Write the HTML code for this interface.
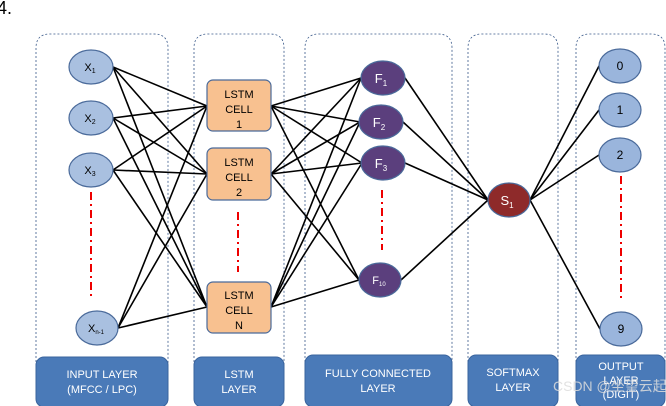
<!DOCTYPE html>
<html><head><style>body{margin:0;background:#fff}svg{display:block}text{font-family:"Liberation Sans",sans-serif}</style></head>
<body>
<svg width="666" height="406" viewBox="0 0 666 406" xmlns="http://www.w3.org/2000/svg">
<text x="-3" y="14" font-size="18" fill="#000">4.</text>
<g fill="none" stroke="#3a5a8a" stroke-width="0.8" stroke-dasharray="2,2">
<path d="M36,390 V48 Q36,34 50,34 H154 Q168,34 168,48 V390"/>
<path d="M194,390 V48 Q194,34 208,34 H270 Q284,34 284,48 V390"/>
<path d="M305,390 V48 Q305,34 319,34 H438 Q452,34 452,48 V390"/>
<path d="M468,390 V48 Q468,34 482,34 H544 Q558,34 558,48 V390"/>
<path d="M576,390 V48 Q576,34 590,34 H651 Q665,34 665,48 V390"/>
</g>
<g stroke="#000" stroke-width="1.6">
<line x1="113" y1="67" x2="207" y2="106"/><line x1="113" y1="67" x2="207" y2="174"/><line x1="113" y1="67" x2="207" y2="307"/>
<line x1="113" y1="118" x2="207" y2="106"/><line x1="113" y1="118" x2="207" y2="174"/><line x1="113" y1="118" x2="207" y2="307"/>
<line x1="113" y1="170" x2="207" y2="106"/><line x1="113" y1="170" x2="207" y2="174"/><line x1="113" y1="170" x2="207" y2="307"/>
<line x1="118" y1="328" x2="207" y2="106"/><line x1="118" y1="328" x2="207" y2="174"/><line x1="118" y1="328" x2="207" y2="307"/>
<line x1="271" y1="106" x2="361" y2="78"/><line x1="271" y1="106" x2="360" y2="122"/><line x1="271" y1="106" x2="362" y2="163"/><line x1="271" y1="106" x2="359" y2="280"/>
<line x1="271" y1="174" x2="361" y2="78"/><line x1="271" y1="174" x2="360" y2="122"/><line x1="271" y1="174" x2="362" y2="163"/><line x1="271" y1="174" x2="359" y2="280"/>
<line x1="271" y1="307" x2="361" y2="78"/><line x1="271" y1="307" x2="360" y2="122"/><line x1="271" y1="307" x2="362" y2="163"/><line x1="271" y1="307" x2="359" y2="280"/>
<line x1="405" y1="78" x2="488" y2="200"/><line x1="403" y1="122" x2="488" y2="200"/><line x1="405" y1="163" x2="488" y2="200"/><line x1="401" y1="280" x2="488" y2="200"/>
<line x1="530" y1="200" x2="599" y2="66"/><line x1="530" y1="200" x2="599" y2="110"/><line x1="530" y1="200" x2="599" y2="155"/><line x1="530" y1="200" x2="600" y2="329"/>
</g>
<g stroke="#e00" stroke-width="2" stroke-dasharray="8,4,2,4">
<line x1="91" y1="192" x2="91" y2="297"/><line x1="238" y1="212" x2="238" y2="272"/><line x1="382" y1="190" x2="382" y2="250"/><line x1="621" y1="176" x2="621" y2="300"/>
</g>
<g fill="#a9c0e0" stroke="#4a6a9a" stroke-width="1.2">
<ellipse cx="91" cy="67" rx="22" ry="17"/><ellipse cx="91" cy="118" rx="22" ry="17"/><ellipse cx="91" cy="170" rx="22" ry="17"/><ellipse cx="97" cy="328" rx="21" ry="17"/>
<ellipse cx="620" cy="66" rx="21" ry="17" fill="#9ab5dc"/><ellipse cx="620" cy="110" rx="21" ry="17" fill="#9ab5dc"/><ellipse cx="620" cy="155" rx="21" ry="17" fill="#9ab5dc"/><ellipse cx="621" cy="329" rx="21" ry="17" fill="#9ab5dc"/>
</g>
<g fill="#f8c190" stroke="#4a6a9a" stroke-width="1.2">
<rect x="207" y="80" width="64" height="51" rx="6"/><rect x="207" y="148" width="64" height="52" rx="6"/><rect x="207" y="282" width="64" height="51" rx="6"/>
</g>
<g fill="#5b3f7d" stroke="#4a6a9a" stroke-width="1.2">
<ellipse cx="383" cy="78" rx="22" ry="17"/><ellipse cx="381" cy="122" rx="22" ry="17"/><ellipse cx="383" cy="163" rx="22" ry="17"/><ellipse cx="380" cy="280" rx="21" ry="17"/>
</g>
<ellipse cx="509" cy="200" rx="21" ry="17" fill="#8e2a2a" stroke="#4a6a9a" stroke-width="1.2"/>
<g font-size="11" fill="#000" text-anchor="middle">
<text x="90" y="71">X<tspan font-size="7" dy="2">1</tspan></text>
<text x="90" y="122">X<tspan font-size="7" dy="2">2</tspan></text>
<text x="90" y="174">X<tspan font-size="7" dy="2">3</tspan></text>
<text x="96" y="332">X<tspan font-size="6" dy="2">n-1</tspan></text>
<text x="620" y="70" font-size="12">0</text><text x="620" y="114" font-size="12">1</text><text x="620" y="159" font-size="12">2</text><text x="621" y="333" font-size="12">9</text>
</g>
<g font-size="11" fill="#000" text-anchor="middle">
<text x="239" y="98">LSTM</text><text x="239" y="113">CELL</text><text x="239" y="128">1</text>
<text x="239" y="166">LSTM</text><text x="239" y="181">CELL</text><text x="239" y="196">2</text>
<text x="239" y="299">LSTM</text><text x="239" y="314">CELL</text><text x="239" y="329">N</text>
</g>
<g font-size="13" fill="#fff" text-anchor="middle">
<text x="381" y="83">F<tspan font-size="8" dy="3">1</tspan></text>
<text x="379" y="127">F<tspan font-size="8" dy="3">2</tspan></text>
<text x="381" y="168">F<tspan font-size="8" dy="3">3</tspan></text>
<text x="379" y="284" font-size="11">F<tspan font-size="6" dy="2">10</tspan></text>
<text x="507" y="205">S<tspan font-size="8" dy="3">1</tspan></text>
</g>
<g fill="#4a7ab8" stroke="#3a649e" stroke-width="1">
<rect x="36" y="357" width="132" height="50" rx="8"/><rect x="194" y="357" width="90" height="50" rx="8"/><rect x="305" y="355" width="147" height="52" rx="8"/><rect x="468" y="355" width="90" height="52" rx="8"/><rect x="576" y="355" width="89" height="52" rx="8"/>
</g>
<g font-size="11" fill="#fff" text-anchor="middle">
<text x="102" y="378">INPUT LAYER</text><text x="102" y="393">(MFCC / LPC)</text>
<text x="239" y="378">LSTM</text><text x="239" y="393">LAYER</text>
<text x="378" y="377">FULLY CONNECTED</text><text x="378" y="392">LAYER</text>
<text x="513" y="376">SOFTMAX</text><text x="513" y="391">LAYER</text>
<text x="621" y="370">OUTPUT</text><text x="621" y="384">LAYER</text><text x="621" y="398">(DIGIT)</text>
</g>
<text x="553" y="391" font-size="14" fill="#ddd" opacity="0.85">CSDN @坐望云起</text>
</svg>
</body></html>
